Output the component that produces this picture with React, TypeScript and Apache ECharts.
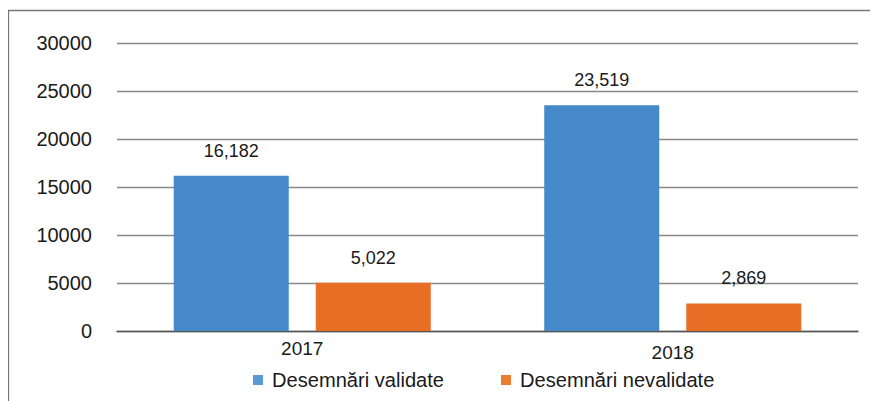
import React, { useEffect, useRef } from "react";
import * as echarts from "echarts";

const categories = ["2017", "2018"];
const seriesNames = ["Desemnări validate", "Desemnări nevalidate"];
const validate = [16182, 23519];
const nevalidate = [5022, 2869];
const yTicks = [0, 5000, 10000, 15000, 20000, 25000, 30000];

const FONT = "'Liberation Sans', Arial, sans-serif";

export default function App() {
  const ref = useRef<HTMLDivElement>(null);
  useEffect(() => {
    if (!ref.current) return;
    const chart = echarts.init(ref.current, null, { renderer: "svg" });
    const labelCfg = {
      show: true,
      position: "top" as const,
      distance: 16,
      fontSize: 18,
      fontFamily: FONT,
      color: "#1a1a1a",
      formatter: (p: any) => Number(p.value).toLocaleString("en-US"),
    };
    chart.setOption({
      animation: false,
      textStyle: { fontFamily: FONT },
      graphic: [
        {
          type: "rect",
          shape: { x: 0.5, y: 2.5, width: 1200, height: 1200 },
          style: { fill: "none", stroke: "#777", lineWidth: 1.3 },
          silent: true,
        },
      ],
      grid: { left: 109, right: 20, top: 35, bottom: 70 },
      legend: {
        bottom: 6,
        left: 240,
        itemWidth: 10,
        itemHeight: 10,
        itemGap: 57,
        icon: "rect",
        textStyle: { fontSize: 20.1, fontFamily: FONT, color: "#1a1a1a", padding: [0, 0, 0, 4] },
        data: [
          { name: seriesNames[0], itemStyle: { color: "#5B9BD5" } },
          { name: seriesNames[1], itemStyle: { color: "#ED7D31" } },
        ],
      },
      xAxis: {
        type: "category",
        data: categories.map((c, i) =>
          i === 1 ? { value: c, textStyle: { padding: [4, 0, 0, 0] } } : { value: c }
        ),
        axisTick: { show: false },
        axisLine: { lineStyle: { color: "#555", width: 1.3 } },
        axisLabel: { fontSize: 19, color: "#1a1a1a", margin: 8, fontFamily: FONT },
      },
      yAxis: {
        type: "value",
        min: yTicks[0],
        max: yTicks[yTicks.length - 1],
        interval: 5000,
        axisLine: { show: false },
        axisTick: { show: false },
        splitLine: { lineStyle: { color: "#888", width: 1.3 } },
        axisLabel: {
          fontSize: 20,
          color: "#1a1a1a",
          margin: 25,
          fontFamily: FONT,
          formatter: (v: number) => String(v),
        },
      },
      series: [
        {
          name: seriesNames[0],
          type: "bar",
          data: validate,
          barWidth: 115,
          barGap: "23.5%",
          itemStyle: { color: "#4589C9" },
          label: labelCfg,
        },
        {
          name: seriesNames[1],
          type: "bar",
          data: nevalidate,
          barWidth: 115,
          itemStyle: { color: "#E96E25" },
          label: labelCfg,
        },
      ],
    });
    return () => chart.dispose();
  }, []);
  return <div ref={ref} style={{ width: 870, height: 393 }} />;
}
